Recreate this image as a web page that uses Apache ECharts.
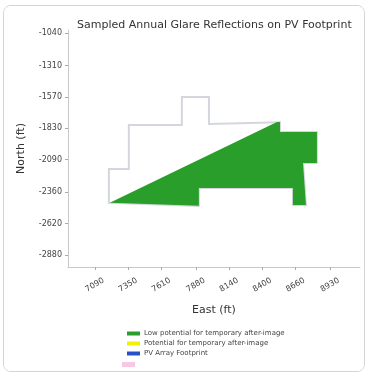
<!DOCTYPE html>
<html lang="en">
<head>
    <meta charset="UTF-8">
    <title>Glare reflections</title>
    <script src="https://cdn.jsdelivr.net/npm/echarts@6/dist/echarts.min.js"></script>
    <style>
        body {
            margin: 0;
            background: #fff;
        }
        #card {
            position: absolute;
            left: 3px;
            top: 5px;
            width: 360px;
            height: 365px;
            border: 1.5px solid #d4d4d4;
            border-radius: 8px;
            overflow: hidden;
            background: #fff;
        }
        #container {
            position: absolute;
            left: -4.5px;
            top: -6.5px;
            width: 368px;
            height: 375px;
        }
    </style>
</head>
<body>
<div id="card"><div id="container"></div></div>
<script>
    // tick labels (ft)
    const eastTicks = [7090, 7350, 7610, 7880, 8140, 8400, 8660, 8930];
    const northTicks = [-1040, -1310, -1570, -1830, -2090, -2360, -2620, -2880];

    // PV array footprint outline
    const footprintE = [7200, 7200, 7356, 7356, 7771, 7771, 7983, 7983, 8539, 8539, 8828, 8828, 8719, 8742, 8640, 8640, 7904, 7904];
    const footprintN = [-2448, -2167, -2167, -1802, -1802, -1570, -1570, -1794, -1780, -1860, -1860, -2117, -2117, -2465, -2465, -2324, -2324, -2473];

    // area with low potential for temporary after-image
    const glareE = [7207, 8515, 8539, 8539, 8828, 8828, 8719, 8742, 8640, 8640, 7904, 7904];
    const glareN = [-2448, -1777, -1777, -1860, -1860, -2117, -2117, -2465, -2465, -2324, -2324, -2473];

    const legendNames = ['Low potential for temporary after-image', 'Potential for temporary after-image', 'PV Array Footprint'];
    const legendColors = ['#2a9e2a', '#f2f200', '#2850c8'];

    function polygonSeries(name, es, ns, style) {
        const pts = es.map((e, i) => [e, ns[i]]);
        return {
            name: name,
            type: 'custom',
            data: pts,
            clip: false,
            itemStyle: {color: style.fill || style.stroke},
            renderItem: function (params, api) {
                if (params.dataIndex !== 0) return null;
                const points = pts.map(p => api.coord(p));
                return {
                    type: 'polygon',
                    shape: {points: points},
                    style: {
                        fill: style.fill || null,
                        stroke: style.stroke || null,
                        lineWidth: style.lineWidth || 0
                    }
                };
            }
        };
    }

    var dom = document.getElementById('container');
    var myChart = echarts.init(dom, null, {renderer: 'canvas'});

    var option = {
        backgroundColor: '#fff',
        animation: false,
        title: {
            text: 'Sampled Annual Glare Reflections on PV Footprint',
            left: 72,
            top: 15,
            textStyle: {fontFamily: 'DejaVu Sans', fontSize: 11, fontWeight: 'normal', color: '#333'}
        },
        grid: {left: 68, right: 8, top: 30, bottom: 108},
        legend: {
            orient: 'vertical',
            left: 122,
            top: 325,
            itemWidth: 13,
            itemHeight: 4,
            itemGap: 3,
            icon: 'rect',
            textStyle: {fontFamily: 'DejaVu Sans', fontSize: 7, color: '#444', padding: [0, 0, 0, -1]},
            data: legendNames.map((n, i) => ({name: n, itemStyle: {color: legendColors[i]}}))
        },
        xAxis: {
            type: 'value',
            min: 6880,
            max: 9165,
            name: 'East (ft)',
            nameLocation: 'middle',
            nameGap: 38,
            nameTextStyle: {fontFamily: 'DejaVu Sans', fontSize: 11, color: '#333'},
            splitLine: {show: false},
            axisLine: {lineStyle: {color: '#c8c8c8'}},
            axisTick: {customValues: eastTicks, length: 3, lineStyle: {color: '#aaa'}},
            axisLabel: {
                customValues: eastTicks,
                formatter: v => String(v),
                rotate: 30,
                align: 'center',
                verticalAlign: 'middle',
                margin: 18,
                fontFamily: 'DejaVu Sans',
                fontSize: 8,
                color: '#444'
            }
        },
        yAxis: {
            type: 'value',
            min: -2980,
            max: -1015,
            name: 'North (ft)',
            nameLocation: 'middle',
            nameGap: 41,
            nameTextStyle: {fontFamily: 'DejaVu Sans', fontSize: 11, color: '#333'},
            splitLine: {show: false},
            axisLine: {show: true, lineStyle: {color: '#c8c8c8'}},
            axisTick: {show: true, customValues: northTicks, length: 3, lineStyle: {color: '#aaa'}},
            axisLabel: {
                customValues: northTicks,
                formatter: v => String(v),
                margin: 6,
                fontFamily: 'DejaVu Sans',
                fontSize: 8,
                color: '#444'
            }
        },
        series: [
            polygonSeries('PV Array Footprint', footprintE, footprintN, {stroke: '#d4d6de', lineWidth: 2}),
            polygonSeries('Low potential for temporary after-image', glareE, glareN, {fill: '#2a9e2a'}),
            {name: 'Potential for temporary after-image', type: 'custom', data: [], renderItem: () => null}
        ],
        graphic: [
            {type: 'rect', left: 122, top: 362, shape: {width: 13, height: 5}, style: {fill: '#f7c8e0'}}
        ]
    };

    myChart.setOption(option);
    window.addEventListener('resize', myChart.resize);
</script>
</body>
</html>
